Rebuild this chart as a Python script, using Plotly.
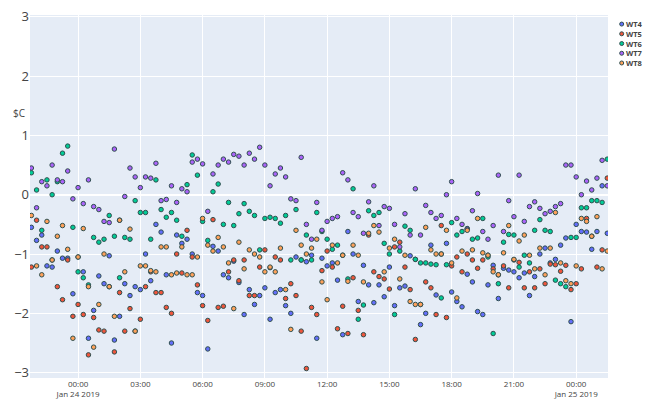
import pandas as pd
import plotly.graph_objects as go

# Sampling times: one reading every 15 minutes
start_time = "2019-01-23 21:45"
n_samples = 112
times = pd.date_range(start_time, periods=n_samples, freq="15min")

series_names = ["WT4", "WT5", "WT6", "WT7", "WT8"]
series_colors = ["#636efa", "#EF553B", "#00cc96", "#ab63fa", "#FFA15A"]

wt4 = [-0.55, -0.77, -0.68, -1.2, -1.22, -0.95, -1.07, -1.07, -1.67, -1.05,
       -1.3, -2.42, -1.95, -1.37, -1.5, -1.03, -2.45, -2.05, -1.5, -1.7,
       -1.55, -1.6, -1.0, -1.45, -0.5, -0.63, -1.35, -2.5, -0.68, -0.82,
       -0.75, -1.0, -1.65, -1.7, -2.6, -0.87, -0.95, -1.35, -1.4, -1.12,
       -1.48, -2.02, -1.6, -1.85, -1.7, -1.57, -2.1, -1.65, -1.6, -1.87,
       -2.0, -1.05, -1.1, -1.13, -1.02, -2.42, -1.07, -1.2, -1.15, -1.44,
       -2.36, -0.62, -1.0, -1.8, -1.19, -1.52, -1.82, -1.52, -1.72, -1.22,
       -1.87, -1.57, -1.54, -1.03, -1.09, -2.19, -2.0, -0.85, -1.69, -1.0,
       -0.82, -1.64, -1.8, -1.89, -1.34, -1.47, -1.97, -2.02, -1.52, -1.19,
       -1.75, -1.24, -1.27, -1.3, -1.4, -1.32, -1.7, -1.38, -1.0, -0.9,
       -1.15, -1.09, -0.85, -0.73, -2.14, -0.5, -0.62, -0.63, -0.92, -0.62,
       0.15, -0.65]

wt5 = [-1.22, -0.43, -0.88, -0.88, -1.1, -1.55, -1.77, -1.1, -2.05, -1.85,
       -2.02, -2.7, -2.07, -2.28, -2.3, -1.55, -2.65, -1.65, -2.3, -1.92,
       -2.3, -2.1, -1.55, -1.3, -1.65, -1.65, -1.9, -2.0, -1.0, -1.32,
       -0.6, -1.05, -1.52, -1.87, -2.12, -0.42, -1.9, -1.88, -1.3, -1.1,
       -1.45, -1.1, -1.7, -1.7, -1.22, -0.93, -1.23, -1.05, -1.1, -1.75,
       -1.5, -1.7, -2.3, -2.93, -1.9, -2.02, -1.28, -0.95, -1.22, -2.26,
       -1.88, -2.34, -1.4, -1.95, -2.36, -0.68, -1.3, -1.38, -1.42, -1.59,
       -0.88, -0.8, -1.22, -1.6, -2.44, -1.85, -1.47, -1.57, -2.02, -0.52,
       -2.07, -1.2, -1.05, -1.3, -1.0, -1.1, -1.24, -1.1, -1.02, -1.25,
       -1.35, -1.2, -1.57, -1.1, -1.14, -1.57, -1.3, -1.57, -1.25, -1.5,
       -1.17, -1.18, -1.29, -1.19, -1.6, -1.5, -1.25, -0.4, -0.7, -1.22,
       -0.93, 0.28]

wt6 = [0.37, 0.08, -0.6, 0.25, 0.0, 0.22, 0.7, 0.82, -0.55, -1.3,
       -1.4, -1.52, -0.72, -0.8, -0.75, -0.35, -0.7, -1.4, -0.72, -0.75,
       -0.1, -0.3, -0.3, -0.75, 0.25, -0.25, -0.38, -0.3, -0.43, -0.7,
       0.17, 0.67, 0.33, -0.45, -0.77, 0.05, 0.18, -0.5, -0.13, -0.52,
       -0.32, -0.15, -0.28, -0.35, -0.93, -0.4, -0.38, -0.4, -0.48, -0.35,
       -1.1, -0.25, -1.1, -0.68, -1.1, -0.3, -0.62, -0.75, -0.92, -0.85,
       -1.02, -1.42, 0.1, -2.1, -1.86, -0.27, -0.35, -0.3, -0.82, -1.0,
       -2.02, -0.95, -0.53, -0.6, -1.09, -1.15, -1.15, -1.17, -1.18, -1.74,
       -1.18, -0.47, -0.68, -0.62, -0.57, -0.75, -0.73, -0.4, -1.05, -2.34,
       -1.5, -0.8, -0.67, -0.68, -1.22, -1.02, -1.15, -0.6, -0.42, -0.6,
       -0.62, -1.44, -1.5, -1.55, -0.72, -0.72, -0.22, -0.22, -0.1, -0.1,
       -0.13, 0.6]

wt7 = [0.45, -0.22, 0.22, 0.15, 0.5, 0.25, 0.22, 0.4, -0.07, 0.12,
       -0.15, 0.25, -0.2, -0.25, -0.45, -0.47, 0.77, -0.43, -0.03, 0.45,
       0.3, 0.12, 0.3, 0.28, 0.53, -0.1, -0.08, 0.15, -0.13, 0.1,
       0.05, 0.55, 0.6, 0.52, -0.28, 0.35, 0.5, 0.6, 0.55, 0.68,
       0.65, 0.5, 0.7, 0.6, 0.8, 0.5, 0.15, 0.35, 0.45, 0.3,
       -0.07, -0.1, 0.63, -0.5, -0.75, -0.13, -0.6, -0.45, -0.4, -0.37,
       0.37, 0.25, -0.3, -0.37, -0.65, -0.12, 0.15, -0.52, -0.2, -0.23,
       -0.5, -0.88, -0.32, -0.68, 0.1, -0.68, -0.18, -0.3, -0.4, -0.35,
       0.0, 0.22, -0.4, -0.5, -0.58, -0.27, 0.02, -0.62, -0.75, -0.52,
       0.33, -0.62, -0.1, -0.37, 0.33, -0.45, -0.2, -0.12, -0.23, -0.32,
       -0.28, -0.2, -0.15, 0.5, 0.5, 0.3, 0.0, 0.23, 0.08, 0.28,
       0.58, 0.15]

wt8 = [-0.35, -1.2, -1.35, -0.45, -1.1, -0.7, -0.52, -0.92, -2.42, -1.05,
       -0.57, -1.55, -2.57, -1.85, -1.0, -1.55, -2.05, -0.43, -1.3, -0.58,
       -2.3, -1.2, -1.2, -1.28, -1.3, -0.88, -0.88, -1.35, -1.32, -0.88,
       -1.35, -1.35, -1.05, -0.4, -0.85, -0.95, -0.72, -0.88, -1.15, -1.92,
       -0.8, -1.25, -0.93, -1.0, -1.05, -1.3, -1.22, -1.3, -0.9, -1.6,
       -2.27, -0.6, -0.85, -1.0, -0.9, -0.75, -1.47, -1.77, -0.85, -1.15,
       -1.02, -1.46, -0.85, -1.02, -1.47, -0.65, -0.52, -0.63, -1.3, -0.9,
       -0.75, -1.42, -1.02, -1.8, -1.85, -1.85, -0.55, -0.93, -1.0, -1.0,
       -0.6, -1.15, -1.74, -0.95, -0.6, -0.93, -0.4, -0.98, -1.02, -1.3,
       -1.35, -0.98, -0.52, -1.09, -0.78, -0.68, -1.02, -1.25, -0.9, -1.35,
       -0.9, -0.3, -1.15, -1.45, -1.5, -1.2, -0.4, -0.45, -0.7, -0.37,
       -1.25, -0.95]

series_values = [wt4, wt5, wt6, wt7, wt8]

y_tick_values = [-3, -2, -1, 0, 1, 2, 3]
x_range = ["2019-01-23 21:41", "2019-01-25 01:32"]
y_range = [-3.09, 3.03]

fig = go.Figure()
for name, color, values in zip(series_names, series_colors, series_values):
    fig.add_trace(go.Scatter(
        x=times, y=values, name=name, mode="markers",
        marker=dict(size=4.5, color=color,
                    line=dict(width=1, color="DarkSlateGrey")),
        showlegend=False,
    ))

# Compact legend drawn beside the plot area: one dot per series plus a
# single multi-line label block
legend_top = 0.975
legend_step = 0.0268
for k, color in enumerate(series_colors):
    y_pos = legend_top - k * legend_step
    fig.add_shape(type="circle", xref="paper", yref="paper",
                  xsizemode="pixel", ysizemode="pixel",
                  xanchor=1.0237, yanchor=y_pos,
                  x0=-2, x1=2, y0=-2, y1=2,
                  fillcolor=color, line=dict(color="DarkSlateGrey", width=1))
fig.add_annotation(x=1.0285, y=legend_top - 2 * legend_step,
                   xref="paper", yref="paper",
                   text="<br>".join(f"<b>{n}</b>" for n in series_names),
                   showarrow=False, xanchor="left", yanchor="middle",
                   align="left", font=dict(size=7.5, color="#444"))

# Unit label above the y tick labels
fig.add_annotation(x=-0.019, y=1.37, xref="paper", yref="y",
                   text="$C", showarrow=False, xanchor="center",
                   yanchor="middle", font=dict(size=10, color="#444"))

fig.update_layout(
    width=672, height=401,
    margin=dict(l=30, r=64, t=15, b=23),
    paper_bgcolor="white",
    plot_bgcolor="#E5ECF6",
    font=dict(family="Open Sans, sans-serif", color="#444"),
    xaxis=dict(range=x_range, dtick=3 * 3600 * 1000,
               tick0="2019-01-24 00:00",
               tickformat="%H:%M\n%b %d %Y",
               gridcolor="white", showline=False, zeroline=False,
               tickfont=dict(size=8), automargin=False),
    yaxis=dict(range=y_range, tickvals=y_tick_values,
               gridcolor="white", zeroline=True, zerolinecolor="white",
               zerolinewidth=2, tickfont=dict(size=13), automargin=False),
)

fig.write_html("out.html")
